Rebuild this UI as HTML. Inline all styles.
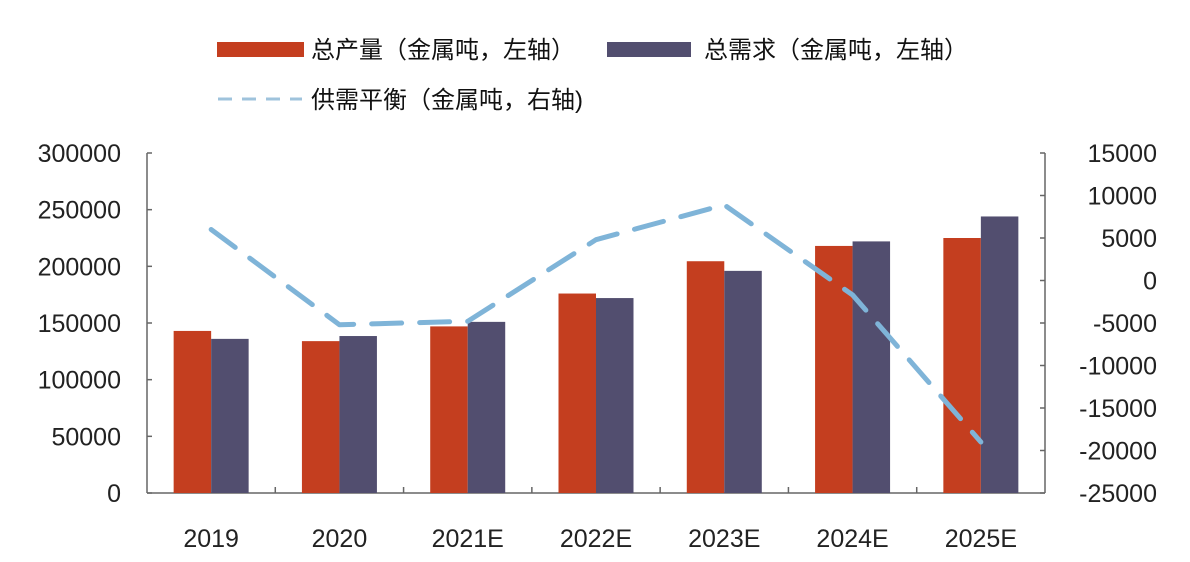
<!DOCTYPE html>
<html><head><meta charset="utf-8"><style>
body{margin:0;background:#fff;}
svg{display:block;font-family:"Liberation Sans","Noto Sans CJK SC",sans-serif;}
</style></head><body>
<svg id="c" width="1190" height="562" viewBox="0 0 1190 562">
<g>
<rect x="217" y="42" width="87" height="15" fill="#c43e1f"/>
<text x="311" y="58" font-size="24" fill="#111">总产量（金属吨，左轴）</text>
<rect x="607" y="42" width="84" height="15" fill="#524e6f"/>
<text x="704" y="58" font-size="24" fill="#111">总需求（金属吨，左轴）</text>
<line x1="218" y1="99" x2="302" y2="99" stroke="#9fc3dc" stroke-width="3" stroke-dasharray="14,10"/>
<text x="311" y="108" font-size="24" fill="#111">供需平衡（金属吨，右轴)</text>
</g>
<g id="plot"></g>
</svg>
<script>
const categories=["2019","2020","2021E","2022E","2023E","2024E","2025E"];
const production=[143000,134000,147000,176000,204500,218000,225000];
const demand=[136000,138500,151000,172000,196000,222000,244000];
const balance=[6000,-5200,-4800,4800,8900,-1700,-19000];
const leftTicks=[0,50000,100000,150000,200000,250000,300000];
const rightTicks=[-25000,-20000,-15000,-10000,-5000,0,5000,10000,15000];
const X0=147,X1=1045,Y0=493,Y1=153;
const yL=v=>Y0-(v/300000)*(Y0-Y1);
const yR=v=>Y0-((v+25000)/40000)*(Y0-Y1);
const band=(X1-X0)/categories.length;
const xc=i=>X0+band*(i+0.5);
const NS="http://www.w3.org/2000/svg";
const g=document.getElementById("plot");
function mk(t,a){const e=document.createElementNS(NS,t);for(const k in a)e.setAttribute(k,a[k]);g.appendChild(e);return e;}
let e=mk("line",{x1:X0,y1:Y1,x2:X0,y2:Y0,stroke:"#666","stroke-width":1.5});


e=mk("line",{x1:X1,y1:Y1,x2:X1,y2:Y0,stroke:"#666","stroke-width":1.5});


e=mk("line",{x1:X0,y1:Y0,x2:X1,y2:Y0,stroke:"#666","stroke-width":1.5});


leftTicks.forEach(v=>{
 const y=yL(v);
 mk("line",{x1:X0,y1:y,x2:X0+5,y2:y,stroke:"#666","stroke-width":1.5});
 const t=mk("text",{x:121,y:y+9,"font-size":25,"text-anchor":"end",fill:"#222"});t.textContent=v;
 
 
});
rightTicks.forEach(v=>{
 const y=yR(v);
 mk("line",{x1:X1-5,y1:y,x2:X1,y2:y,stroke:"#666","stroke-width":1.5});
 const t=mk("text",{x:1157,y:y+9,"font-size":25,"text-anchor":"end",fill:"#222"});t.textContent=v;
 
 
});
for(let i=1;i<categories.length;i++){const x=X0+band*i;mk("line",{x1:x,y1:Y0-6,x2:x,y2:Y0,stroke:"#666","stroke-width":1.5});}
const bw=37.5;
categories.forEach((c,i)=>{
 let r=mk("rect",{x:xc(i)-bw,y:yL(production[i]),width:bw,height:Y0-yL(production[i]),fill:"#c43e1f"});
 
 
 r=mk("rect",{x:xc(i),y:yL(demand[i]),width:bw,height:Y0-yL(demand[i]),fill:"#524e6f"});
 
 
 const t=mk("text",{x:xc(i),y:547,"font-size":25,"text-anchor":"middle",fill:"#222"});t.textContent=c;
 
 
});
const pl=mk("polyline",{points:balance.map((v,i)=>xc(i)+","+yR(v)).join(" "),fill:"none",stroke:"#7fb4d8","stroke-width":5,"stroke-dasharray":"30,18","stroke-linecap":"round","stroke-linejoin":"round"});


</script>
</body></html>
